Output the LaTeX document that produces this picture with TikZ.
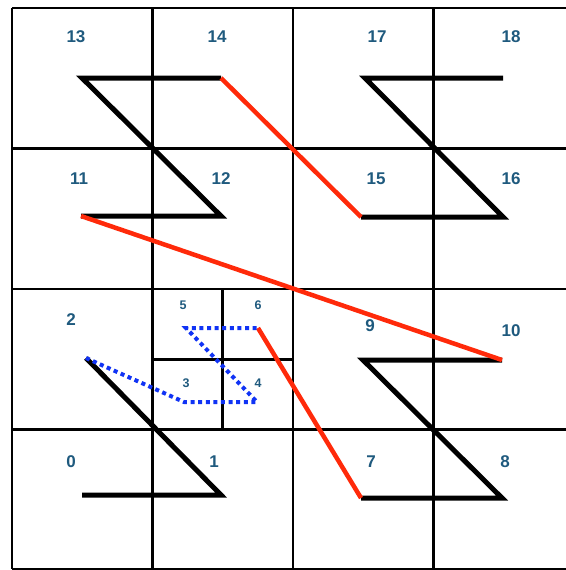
\documentclass[tikz,border=0pt]{standalone}
\usepackage{fontspec}
\setmainfont{Liberation Sans}
\definecolor{lbl}{HTML}{1F5A7E}
\definecolor{redl}{HTML}{FF2A0A}
\definecolor{bluel}{HTML}{1033F5}
\begin{document}
\begin{tikzpicture}[x=1pt,y=-1pt,
  gridline/.style={line width=2.2pt,black},
  zline/.style={line width=5pt,black,line join=miter},
  jump/.style={line width=4.5pt,redl},
  dotline/.style={line width=4pt,bluel,dash pattern=on 4pt off 3.6pt},
  big/.style={font=\fontsize{17}{17}\selectfont\bfseries,text=lbl,inner sep=0pt},
  small/.style={font=\fontsize{12.5}{12.5}\selectfont\bfseries,text=lbl,inner sep=0pt}]
\useasboundingbox (0,0) rectangle (565,570);
\fill[white] (0,0) rectangle (565,570);
% grid
\foreach \x in {12,152.5,293,433.5}{\draw[gridline] (\x,8) -- (\x,569);}
\foreach \y in {8,148.5,289,429.5,569}{\draw[gridline] (12,\y) -- (580,\y);}
\draw[gridline] (222.5,289) -- (222.5,429.5);
\draw[gridline] (152.5,359.5) -- (293,359.5);
% points
\coordinate (p0) at (82,495);
\coordinate (p1) at (221,495);
\coordinate (p2) at (86,358);
\coordinate (p3) at (184,402);
\coordinate (p4) at (257,402);
\coordinate (p5) at (186,328);
\coordinate (p6) at (258,328);
\coordinate (p7) at (361,498);
\coordinate (p8) at (502,498);
\coordinate (p9) at (363,360);
\coordinate (p10) at (502,360);
\coordinate (p11) at (81,216);
\coordinate (p12) at (221,216);
\coordinate (p13) at (82,78);
\coordinate (p14) at (221,78);
\coordinate (p15) at (361,217);
\coordinate (p16) at (503,217);
\coordinate (p17) at (365,78);
\coordinate (p18) at (503,78);
% black z curves
\draw[zline] (p0) -- (p1) -- (p2);
\draw[zline] (p7) -- (p8) -- (p9) -- (p10);
\draw[zline] (p11) -- (p12) -- (p13) -- (p14);
\draw[zline] (p15) -- (p16) -- (p17) -- (p18);
% red jumps
\draw[jump] (p6) -- (p7);
\draw[jump] (p10) -- (p11);
\draw[jump] (p14) -- (p15);
% blue dotted
\draw[dotline] (p2) -- (p3) -- (p4) -- (p5) -- (p6);
% labels
\node[big] (l13) at (76,37) {13};
\node[big] (l14) at (217,37) {14};
\node[big] (l17) at (377,37) {17};
\node[big] (l18) at (511,37) {18};
\node[big] (l11) at (79,179) {11};
\node[big] (l12) at (221,179) {12};
\node[big] (l15) at (376,179) {15};
\node[big] (l16) at (511,179) {16};
\node[big] (l2) at (71,320) {2};
\node[big] (l9) at (370,326) {9};
\node[big] (l10) at (511,331) {10};
\node[big] (l0) at (71,462) {0};
\node[big] (l1) at (214,462) {1};
\node[big] (l7) at (371,462) {7};
\node[big] (l8) at (505,462) {8};
\node[small] (l5) at (183,305) {5};
\node[small] (l6) at (258,305) {6};
\node[small] (l3) at (186,383) {3};
\node[small] (l4) at (258,383) {4};
\end{tikzpicture}
\end{document}
